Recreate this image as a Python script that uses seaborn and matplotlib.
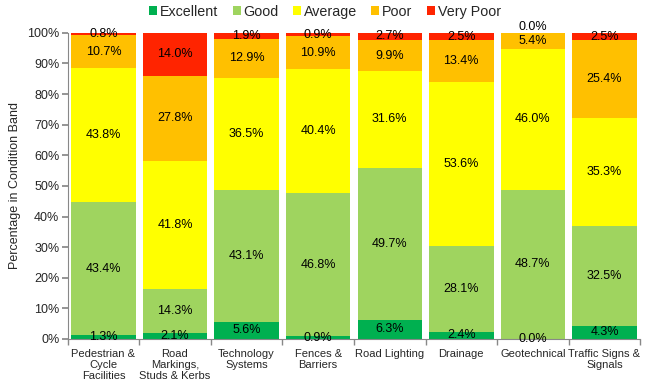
import matplotlib
matplotlib.use("Agg")
import matplotlib.pyplot as plt
import seaborn as sns
import pandas as pd
import numpy as np

# categories and condition bands
categories = ["Pedestrian &\nCycle\nFacilities", "Road\nMarkings,\nStuds & Kerbs",
              "Technology\nSystems", "Fences &\nBarriers", "Road Lighting",
              "Drainage", "Geotechnical", "Traffic Signs &\nSignals"]
bands = ["Excellent", "Good", "Average", "Poor", "Very Poor"]

excellent = [1.3, 2.1, 5.6, 0.9, 6.3, 2.4, 0.0, 4.3]
good = [43.4, 14.3, 43.1, 46.8, 49.7, 28.1, 48.7, 32.5]
average = [43.8, 41.8, 36.5, 40.4, 31.6, 53.6, 46.0, 35.3]
poor = [10.7, 27.8, 12.9, 10.9, 9.9, 13.4, 5.4, 25.4]
very_poor = [0.8, 14.0, 1.9, 0.9, 2.7, 2.5, 0.0, 2.5]

band_colors = ["#00B050", "#9FD45F", "#FFFF00", "#FFC000", "#FF2400"]

df = pd.DataFrame({"Category": categories, "Excellent": excellent, "Good": good,
                   "Average": average, "Poor": poor, "Very Poor": very_poor})

sns.set_theme(style="white")
plt.rcParams["font.family"] = ["Liberation Sans", "DejaVu Sans"]

fig = plt.figure(figsize=(6.5, 3.91), dpi=100)
ax = fig.add_axes([0.104, 0.133, 0.881, 0.783])

# stack bars one band at a time using seaborn's categorical axis
bottom = np.zeros(len(categories))
for k, (band, color) in enumerate(zip(bands, band_colors)):
    sns.barplot(x="Category", y=band, data=df, color=color, width=0.9,
                ax=ax, label=band, saturation=1, bottom=bottom, edgecolor="none")
    for i, v in enumerate(df[band]):
        # empty top segment: label sits above the bar
        va = "bottom" if (v == 0 and k == len(bands) - 1) else "center"
        ax.text(i, bottom[i] + v / 2, f"{v:.1f}%", ha="center", va=va,
                fontsize=9, color="black", clip_on=False)
    bottom = bottom + df[band].values

ax.set_ylim(0, 100)
ax.set_xlim(-0.5, len(categories) - 0.5)
ax.set_yticks(np.arange(0, 101, 10))
ax.set_yticklabels([f"{t}%" for t in range(0, 101, 10)], fontsize=9)
ax.set_ylabel("Percentage in Condition Band", fontsize=9, labelpad=4)
ax.set_xlabel("")
ax.set_xticks(range(len(categories)))
ax.set_xticklabels(categories, fontsize=8, linespacing=1.15)
ax.set_xticks(np.arange(-0.5, len(categories), 1), minor=True)
ax.tick_params(axis="x", which="major", length=0, pad=7)
ax.tick_params(axis="x", which="minor", length=4, color="#888888", direction="out", bottom=True)
ax.tick_params(axis="y", length=4, color="#888888", direction="out", left=True, pad=2)

for s in ["top", "right"]:
    ax.spines[s].set_visible(False)
for s in ["left", "bottom"]:
    ax.spines[s].set_color("#888888")
    ax.spines[s].set_linewidth(0.8)

handles, labels = ax.get_legend_handles_labels()
if ax.legend_:
    ax.legend_.remove()
fig.legend(handles, labels, loc="upper center", bbox_to_anchor=(0.5, 1.01), ncol=5,
           frameon=False, fontsize=10.3, handlelength=0.56, handleheight=0.56,
           handletextpad=0.2, columnspacing=1.0, borderaxespad=0.2)

fig.savefig("out.png", dpi=100)
